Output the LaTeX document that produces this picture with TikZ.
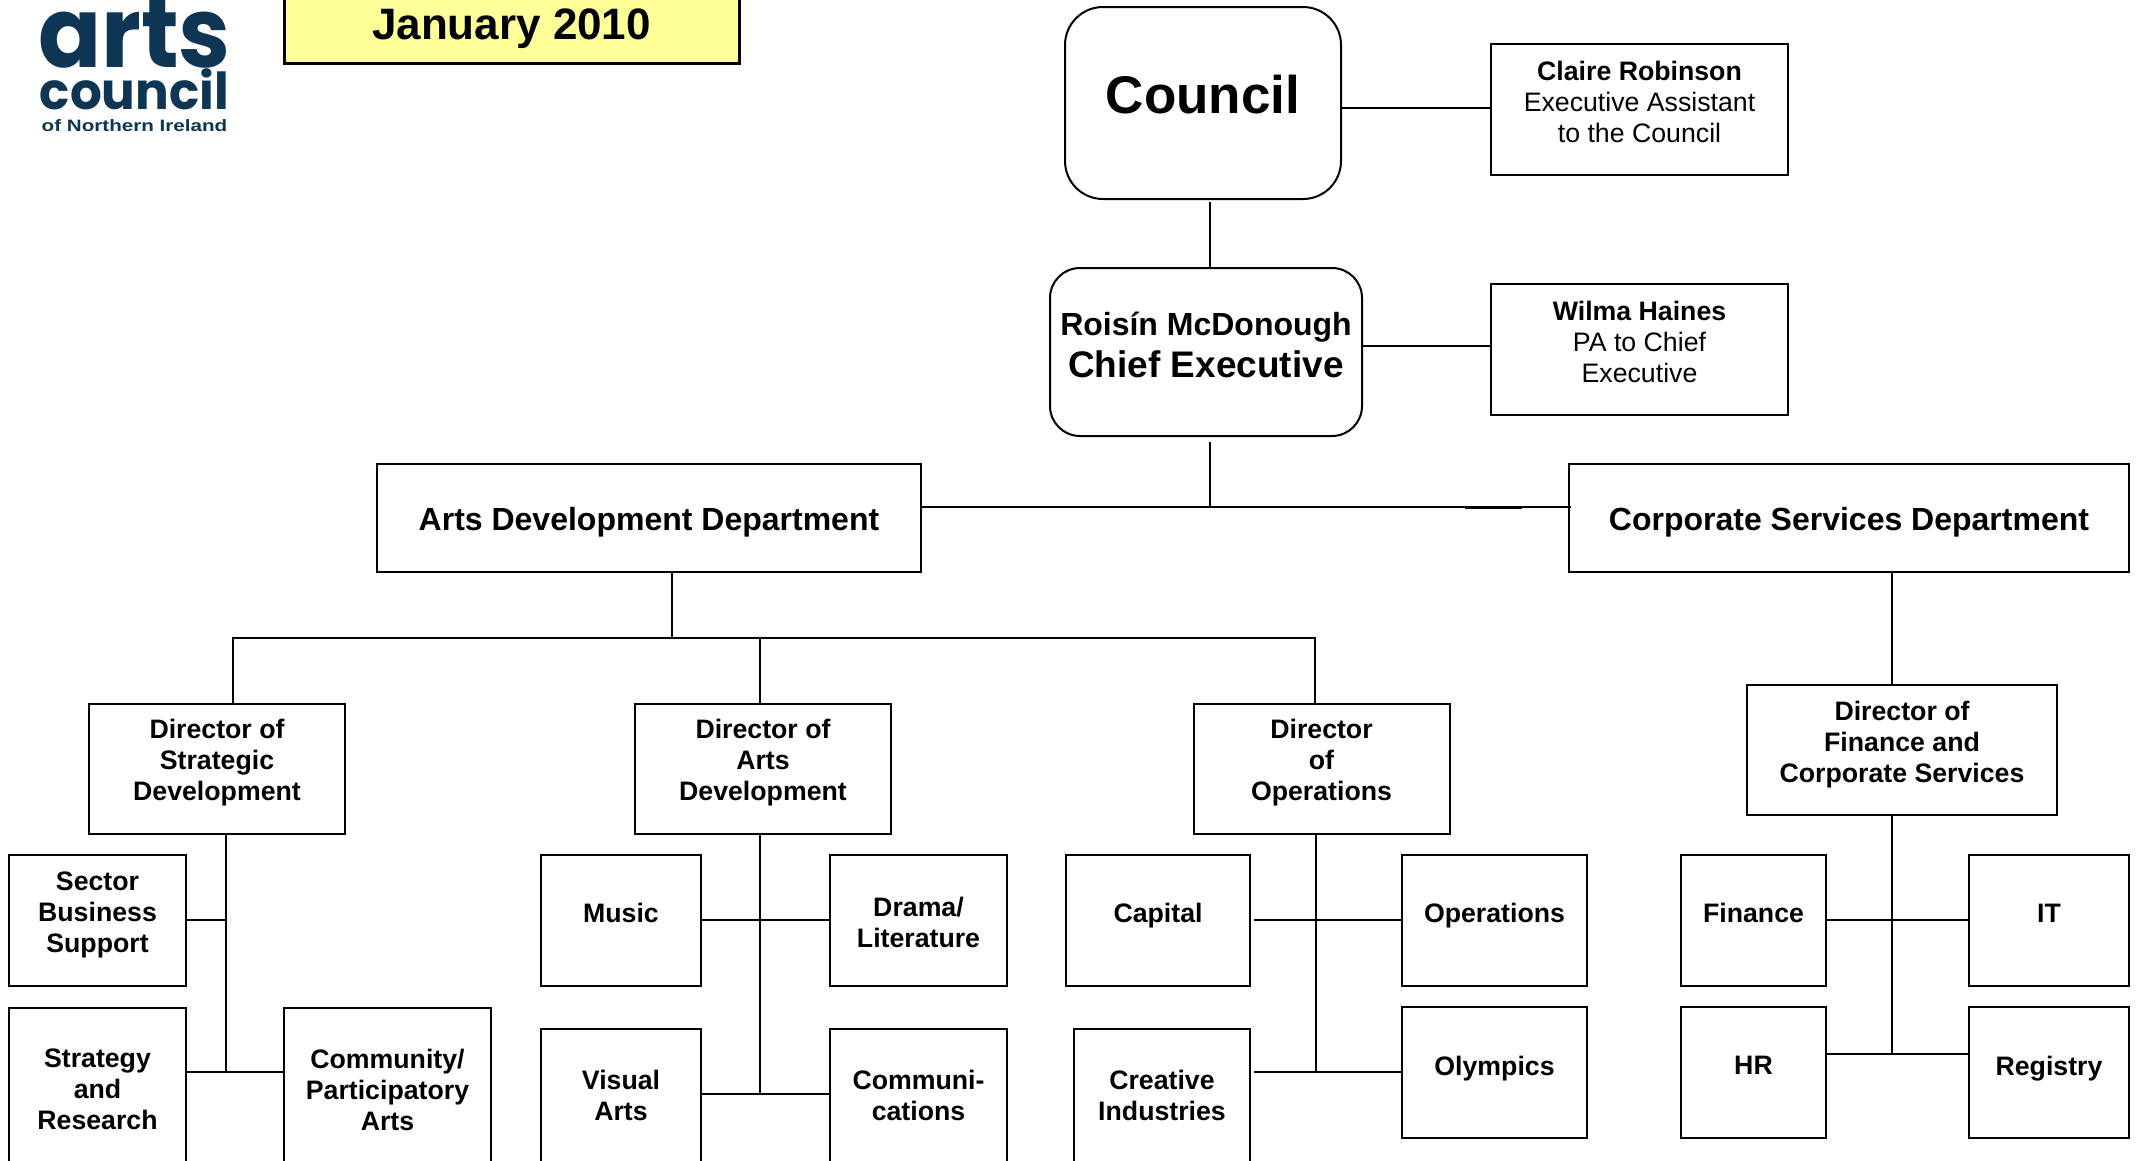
\documentclass[tikz,border=0pt]{standalone}
\usepackage{fontspec}
\setmainfont{Liberation Sans}
\newfontfamily\logofont{Poppins}
\definecolor{logoblue}{RGB}{14,54,84}
\definecolor{dateyellow}{RGB}{255,255,153}
\newcommand{\fs}[1]{\fontsize{#1}{#1}\selectfont}
\tikzset{
  orgbox/.style 2 args={draw, line width=2pt, inner sep=0pt, align=center, minimum width=#1, minimum height=#2, font=\fs{26.7}\bfseries, execute at begin node={\baselineskip=31pt}},
  roundbox/.style 2 args={orgbox={#1}{#2}, rounded corners=30pt},
  assistbox/.style={orgbox={297}{131}, font=\fs{26.7}},
  deptbox/.style={orgbox={#1}{108}, line width=2.5pt, font=\fs{32}\bfseries},
  link/.style={line width=2pt}
}
\begin{document}
\begin{tikzpicture}[x=1pt, y=-1pt]
  \useasboundingbox (0,0) rectangle (2140,1160);

  % Logo and date
  \node[text=logoblue, font=\logofont\bfseries\fs{98}, inner sep=0pt, anchor=base] (logoarts) at (134.5,67) {\scalebox{.95}[1]{arts}};
  \node[text=logoblue, font=\logofont\bfseries\fs{51}, inner sep=0pt, anchor=base] (logocouncil) at (134.5,109.5) {\scalebox{.98}[1]{council}};
  \node[text=logoblue, font=\bfseries\fs{16.5}, inner sep=0pt, anchor=base] (logoni) at (134.5,131) {\scalebox{1.25}[1]{of Northern Ireland}};
  \node[orgbox={455}{68}, line width=3pt, fill=dateyellow, font=\fs{44}\bfseries] (datebox) at (511.5,29) {January 2010};

  % Top of the chart
  \node[roundbox={276}{192}, rounded corners=38pt, font=\fs{53}\bfseries] (council) at (1203,103) {Council\\[-14pt]~};
  \node[assistbox] (claire) at (1639.5,109.5) {\textbf{Claire Robinson}\\Executive Assistant\\to the Council\\[-16pt]~};
  \node[roundbox={312}{168}, font=\fs{32}\bfseries] (chief) at (1206,352) {Roisín McDonough\\[7.5pt]{\fs{37}Chief Executive}\\[-16pt]~};
  \node[assistbox] (wilma) at (1639.5,349.5) {\textbf{Wilma Haines}\\PA to Chief\\Executive\\[-16pt]~};

  % Departments
  \node[deptbox=544] (arts) at (649,518) {\rule{0pt}{31pt}Arts Development Department};
  \node[deptbox=560] (corporate) at (1849,518) {\rule{0pt}{31pt}Corporate Services Department};

  % Directors
  \node[orgbox={256}{130}] (strategic) at (217,769) {Director of\\Strategic\\Development\\[-12pt]~};
  \node[orgbox={256}{130}] (artsdir) at (763,769) {Director of\\Arts\\Development\\[-12pt]~};
  \node[orgbox={256}{130}] (operdir) at (1321.5,769) {Director\\of\\Operations\\[-12pt]~};
  \node[orgbox={310}{130}] (finance) at (1902,750) {Director of\\Finance and\\Corporate Services\\[-14pt]~};

  % Teams
  \node[orgbox={177}{131}] (sector) at (97.5,920.5) {Sector\\Business\\Support\\[-14.5pt]~};
  \node[orgbox={177}{163}] (strategy) at (97.5,1089.5) {Strategy\\and\\Research};
  \node[orgbox={207}{163}] (community) at (387.5,1089.5) {Community/\\Participatory\\Arts};
  \node[orgbox={160}{131}] (music) at (621,920.5) {Music\\[-16pt]~};
  \node[orgbox={177}{131}] (drama) at (918.5,920.5) {\rule{0pt}{23pt}Drama/\\Literature};
  \node[orgbox={160}{140}] (visual) at (621,1099) {Visual\\Arts\\[-23pt]~};
  \node[orgbox={177}{140}] (commun) at (918.5,1099) {Communi-\\cations\\[-23pt]~};
  \node[orgbox={184}{131}] (capital) at (1158,920.5) {Capital\\[-16pt]~};
  \node[orgbox={185}{131}] (operations) at (1494.5,920.5) {Operations\\[-16pt]~};
  \node[orgbox={176}{140}] (creative) at (1162,1099) {Creative\\Industries\\[-23pt]~};
  \node[orgbox={185}{131}] (olympics) at (1494.5,1072.5) {Olympics\\[-17pt]~};
  \node[orgbox={145}{131}] (financeteam) at (1753.5,920.5) {Finance\\[-16pt]~};
  \node[orgbox={160}{131}] (itteam) at (2049,920.5) {IT\\[-16pt]~};
  \node[orgbox={145}{131}] (hrteam) at (1753.5,1072.5) {HR\\[-17pt]~};
  \node[orgbox={160}{131}] (registry) at (2049,1072.5) {Registry\\[-17pt]~};

  % Free ends of the connectors
  \coordinate (ceabove) at (1209.5,202);
  \coordinate (cebelow) at (1209.5,442);
  \coordinate (cejoin) at (1209.5,507);
  \coordinate (overlapa) at (1465,507);
  \coordinate (overlapb) at (1522,507);
  \coordinate (artsbus) at (672,638);
  \coordinate (bussw) at (233,638);
  \coordinate (busmid) at (760,638);
  \coordinate (buse) at (1315,638);
  \coordinate (sjoin) at (225.5,1072);
  \coordinate (ajoin) at (760,1094);
  \coordinate (ojoin) at (1315.5,1072);
  \coordinate (fjoin) at (1892,1054);

  % Connectors
  \draw[link] (council.east |- 0,108) -- (claire.west |- 0,108);
  \draw[link] (ceabove) -- (ceabove |- chief.north);
  \draw[link] (chief.east |- 0,346) -- (wilma.west |- 0,346);
  \draw[link] (cebelow) -- (cejoin);
  \draw[link] (arts.east |- cejoin) -- ([xshift=3pt]corporate.west |- cejoin);
  \draw[link, line width=3pt] (overlapa) -- (overlapb);
  \draw[link] (artsbus |- arts.south) -- (artsbus);
  \draw[link] (bussw |- strategic.north) -- (bussw) -- (buse) -- (buse |- operdir.north);
  \draw[link] (busmid) -- (busmid |- artsdir.north);
  \draw[link] (fjoin |- corporate.south) -- (fjoin |- finance.north);

  \draw[link] (sjoin |- strategic.south) -- (sjoin);
  \draw[link] (sector.east |- 0,920) -- (sjoin |- 0,920);
  \draw[link] (strategy.east |- sjoin) -- (community.west |- sjoin);

  \draw[link] (ajoin |- artsdir.south) -- (ajoin);
  \draw[link] (music.east |- 0,920) -- (drama.west |- 0,920);
  \draw[link] (visual.east |- ajoin) -- (commun.west |- ajoin);

  \draw[link] (ojoin |- operdir.south) -- (ojoin);
  \draw[link] ([xshift=3pt]capital.east |- 0,920) -- (operations.west |- 0,920);
  \draw[link] ([xshift=3pt]creative.east |- ojoin) -- (olympics.west |- ojoin);

  \draw[link] (fjoin |- finance.south) -- (fjoin);
  \draw[link] (financeteam.east |- 0,920) -- (itteam.west |- 0,920);
  \draw[link] (hrteam.east |- fjoin) -- (registry.west |- fjoin);
\end{tikzpicture}
\end{document}
